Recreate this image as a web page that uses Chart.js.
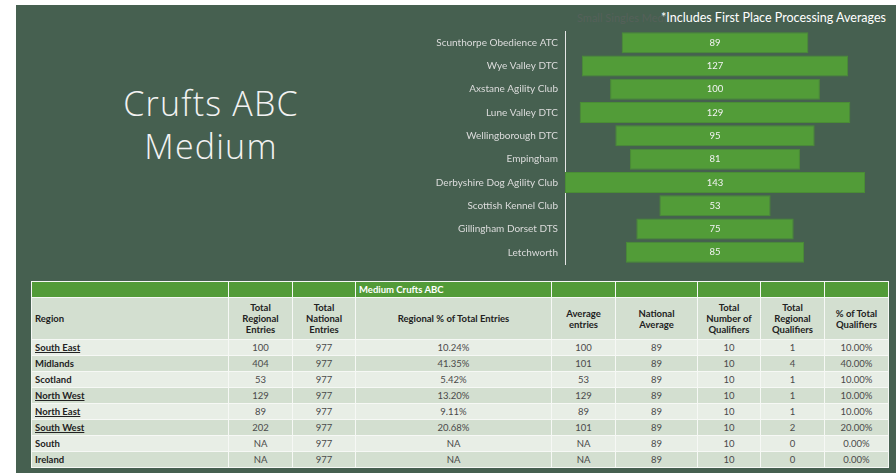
<!DOCTYPE html>
<html>
<head>
<meta charset="utf-8">
<script src="https://cdn.jsdelivr.net/npm/chart.js@4.4.1/dist/chart.umd.min.js"></script>
<style>
  html, body { margin: 0; padding: 0; background: #ffffff; }
  #slide {
    position: absolute; left: 16px; top: 5px; width: 880px; height: 468px;
    background: #466050; overflow: hidden;
  }
  #title {
    position: absolute; left: 55px; top: 77px; width: 280px;
    text-align: center; color: #f2f2f2;
    font-family: 'Open Sans', 'Lato', sans-serif; font-weight: 300;
    font-size: 34px; line-height: 43px; letter-spacing: 1.2px;
  }
  #note {
    position: absolute; right: 10px; top: 5px; color: #ffffff;
    font-family: 'Lato', sans-serif; font-size: 12.5px;
  }
  #ghost {
    position: absolute; left: 561px; top: 6px; color: #55605a;
    font-family: 'Lato', sans-serif; font-size: 11px;
  }
  #chartBox { position: absolute; left: 404px; top: -5px; width: 476px; height: 280px; }
  table {
    position: absolute; left: 15px; top: 276px; width: 858px;
    border-collapse: collapse; table-layout: fixed;
    font-family: 'Lato', sans-serif; font-size: 9.5px; color: #4a4a4a;
  }
  td { border: 1.5px solid #f6f8f5; padding: 0 3px; text-align: center; }
  tr.top { height: 16px; }
  tr.head { height: 42px; }
  tr.odd, tr.even { height: 16px; }
  tr.top td { background: #529b38; color: #ffffff; font-weight: bold; text-align: left; font-size: 9.5px; }
  tr.head td { background: #d3dfd0; color: #222; font-weight: bold; line-height: 11px; font-size: 9.5px; }
  tr.head td:first-child { text-align: left; }
  tr.odd td { background: #e8eee6; }
  tr.even td { background: #d3dfd0; }
  td.reg { text-align: left; font-weight: bold; color: #222; }
  td.reg.link { text-decoration: underline; }
</style>
</head>
<body>
<div id="slide">
  <div id="title">Crufts ABC<br>Medium</div>
  <div id="ghost">Small Singles Medium</div>
  <div id="note">*Includes First Place Processing Averages</div>
  <div id="chartBox"><canvas id="funnelChart"></canvas></div>
  <table id="statsTable"></table>
</div>

<script>
/* ---------- Data ---------- */
const clubs = ['Scunthorpe Obedience ATC', 'Wye Valley DTC', 'Axstane Agility Club', 'Lune Valley DTC',
  'Wellingborough DTC', 'Empingham', 'Derbyshire Dog Agility Club', 'Scottish Kennel Club',
  'Gillingham Dorset DTS', 'Letchworth'];
const clubEntries = [89, 127, 100, 129, 95, 81, 143, 53, 75, 85];

const columnHeaders = ['Region', 'Total<br>Regional<br>Entries', 'Total<br>National<br>Entries',
  'Regional % of Total Entries', 'Average<br>entries', 'National<br>Average',
  'Total<br>Number of<br>Qualifiers', 'Total<br>Regional<br>Qualifiers', '% of Total<br>Qualifiers'];
const regions = ['South East', 'Midlands', 'Scotland', 'North West', 'North East', 'South West', 'South', 'Ireland'];
const linkedRegions = ['South East', 'North West', 'North East', 'South West'];
const regionalEntries = ['100', '404', '53', '129', '89', '202', 'NA', 'NA'];
const nationalEntries = ['977', '977', '977', '977', '977', '977', '977', '977'];
const regionalPct = ['10.24%', '41.35%', '5.42%', '13.20%', '9.11%', '20.68%', 'NA', 'NA'];
const averageEntries = ['100', '101', '53', '129', '89', '101', 'NA', 'NA'];
const nationalAverage = ['89', '89', '89', '89', '89', '89', '89', '89'];
const totalQualifiers = ['10', '10', '10', '10', '10', '10', '10', '10'];
const regionalQualifiers = ['1', '4', '1', '1', '1', '2', '0', '0'];
const qualifierPct = ['10.00%', '40.00%', '10.00%', '10.00%', '10.00%', '20.00%', '0.00%', '0.00%'];

const colWidths = [197, 64, 63, 196, 64, 82, 63, 64, 64];

/* ---------- Table ---------- */
const table = document.getElementById('statsTable');
let html = '<colgroup>' + colWidths.map((w) => `<col style="width:${w}px">`).join('') + '</colgroup>';
html += '<tr class="top">' + colWidths.map((_, i) => `<td>${i === 3 ? 'Medium Crufts ABC' : ''}</td>`).join('') + '</tr>';
html += '<tr class="head">' + columnHeaders.map((h) => `<td>${h}</td>`).join('') + '</tr>';
regions.forEach((r, i) => {
  const cls = i % 2 === 0 ? 'odd' : 'even';
  const link = linkedRegions.includes(r) ? ' link' : '';
  const cells = [regionalEntries[i], nationalEntries[i], regionalPct[i], averageEntries[i],
    nationalAverage[i], totalQualifiers[i], regionalQualifiers[i], qualifierPct[i]];
  html += `<tr class="${cls}"><td class="reg${link}">${r}</td>` + cells.map((c) => `<td>${c}</td>`).join('') + '</tr>';
});
table.innerHTML = html;

/* ---------- Funnel (floating horizontal bars) ---------- */
const half = Math.max(...clubEntries) / 2;

const valueLabels = {
  id: 'valueLabels',
  afterDatasetsDraw(chart) {
    const { ctx } = chart;
    const meta = chart.getDatasetMeta(0);
    ctx.save();
    ctx.fillStyle = '#f4f4f4';
    ctx.font = "9.5px 'Lato', sans-serif";
    ctx.textAlign = 'center';
    ctx.textBaseline = 'middle';
    meta.data.forEach((bar, i) => {
      const p = bar.getCenterPoint();
      ctx.fillText(String(clubEntries[i]), p.x, p.y);
    });
    ctx.restore();
  },
};

new Chart(document.getElementById('funnelChart').getContext('2d'), {
  type: 'bar',
  data: {
    labels: clubs,
    datasets: [{
      data: clubEntries.map((v) => [-v / 2, v / 2]),
      backgroundColor: '#529c38',
      borderColor: '#4a8d35',
      borderWidth: 1,
      borderSkipped: false,
      categoryPercentage: 1,
      barPercentage: 0.9,
    }],
  },
  options: {
    indexAxis: 'y',
    responsive: true, maintainAspectRatio: false,
    animation: false,
    layout: { padding: { top: 31, bottom: 16, right: 31, left: 0 } },
    plugins: { legend: { display: false }, tooltip: { enabled: false } },
    scales: {
      x: { display: false, min: -half, max: half },
      y: {
        grid: { display: false, drawTicks: false },
        border: { display: true, color: '#e6e6e6', width: 1 },
        ticks: { color: '#dcdcdc', font: { family: "'Lato', sans-serif", size: 10 }, padding: 7 },
        afterFit: (scale) => { scale.width = 145; },
      },
    },
  },
  plugins: [valueLabels],
});
</script>
</body>
</html>
